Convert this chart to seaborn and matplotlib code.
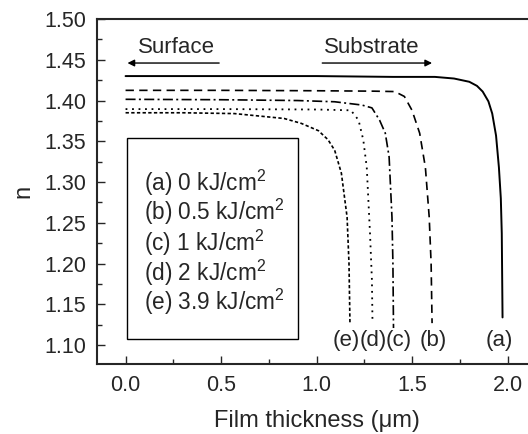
import matplotlib
matplotlib.use("Agg")
import matplotlib.pyplot as plt
import seaborn as sns
import pandas as pd
from matplotlib.patches import Rectangle
from matplotlib.ticker import MultipleLocator

sns.set_style("ticks")
plt.rcParams['font.family'] = ['Liberation Sans', 'DejaVu Sans']
plt.rcParams['mathtext.fontset'] = 'custom'
plt.rcParams['mathtext.rm'] = 'Liberation Sans'
plt.rcParams['mathtext.it'] = 'Liberation Sans:italic'

# Data
x_a = [0.0, 0.5, 1.0, 1.4, 1.62, 1.72, 1.8, 1.84, 1.87, 1.9, 1.92, 1.94, 1.955, 1.965, 1.97, 1.974]
n_a = [1.430, 1.430, 1.430, 1.429, 1.429, 1.427, 1.423, 1.418, 1.411, 1.399, 1.384, 1.357, 1.318, 1.280, 1.237, 1.134]

x_b = [0.0, 0.5, 1.0, 1.3, 1.41, 1.46, 1.5, 1.54, 1.57, 1.59, 1.60, 1.605]
n_b = [1.4125, 1.4125, 1.412, 1.4115, 1.411, 1.405, 1.388, 1.360, 1.318, 1.257, 1.200, 1.127]

x_c = [0.0, 0.5, 0.9, 1.095, 1.237, 1.29, 1.33, 1.36, 1.38, 1.395, 1.40, 1.403]
n_c = [1.4015, 1.401, 1.400, 1.3985, 1.3945, 1.391, 1.376, 1.360, 1.331, 1.257, 1.200, 1.121]

x_d = [0.0, 0.5, 1.0, 1.18, 1.22, 1.245, 1.263, 1.28, 1.29, 1.293]
n_d = [1.3895, 1.3895, 1.389, 1.388, 1.376, 1.3515, 1.318, 1.237, 1.180, 1.128]

x_e = [0.0, 0.3, 0.57, 0.83, 0.92, 1.01, 1.06, 1.095, 1.13, 1.16, 1.17, 1.175]
n_e = [1.385, 1.385, 1.384, 1.378, 1.372, 1.363, 1.352, 1.339, 1.311, 1.257, 1.200, 1.127]

curve_ids = ["(a)", "(b)", "(c)", "(d)", "(e)"]
legend_lines = ["(a) 0 kJ/cm$^2$", "(b) 0.5 kJ/cm$^2$", "(c) 1 kJ/cm$^2$",
                "(d) 2 kJ/cm$^2$", "(e) 3.9 kJ/cm$^2$"]
end_label_x = [1.955, 1.61, 1.43, 1.295, 1.158]

xs = [x_a, x_b, x_c, x_d, x_e]
ns = [n_a, n_b, n_c, n_d, n_e]
styles = ["-", (0, (5, 3.2)), (0, (6, 2, 1.2, 2)), (0, (1, 2.6)), (0, (2, 1.4))]
widths = [1.4, 1.2, 1.2, 1.3, 1.2]

W, H = 528, 434
fig = plt.figure(figsize=(W / 100, H / 100), dpi=100)
left_px, right_px, top_px, bot_px = 97.3, 125.5 + 2.15 * 191, 19, 363.5
ax = fig.add_axes([left_px / W, 1 - bot_px / H, (right_px - left_px) / W, (bot_px - top_px) / H])

for cid, x, n, ls, lw in zip(curve_ids, xs, ns, styles, widths):
    df = pd.DataFrame({"x": x, "n": n})
    sns.lineplot(data=df, x="x", y="n", ax=ax, color="black", linestyle=ls,
                 linewidth=lw, sort=False, estimator=None)

ax.set_xlim(-0.148, 2.15)
ax.set_ylim(1.0775, 1.50)
ax.xaxis.set_major_locator(MultipleLocator(0.5))
ax.xaxis.set_minor_locator(MultipleLocator(0.25))
ax.yaxis.set_major_locator(MultipleLocator(0.05))
ax.yaxis.set_minor_locator(MultipleLocator(0.025))
ax.yaxis.set_major_formatter(matplotlib.ticker.FormatStrFormatter("%.2f"))
ax.tick_params(which="major", direction="in", length=6, width=1.0, labelsize=15.5,
               top=True, right=True, pad=8)
ax.tick_params(which="minor", direction="in", length=3.5, width=1.0, top=True, right=True)
ax.tick_params(axis="x", which="both", top=False)
for s in ax.spines.values():
    s.set_linewidth(1.5)

ax.set_xlabel("Film thickness (μm)", fontsize=17, labelpad=10)
ax.set_ylabel("n", fontsize=17, labelpad=7)

# Direction annotations
ax.text(0.268, 1.4656, "Surface", fontsize=16, ha="center", va="center")
ax.annotate("", xy=(0.01, 1.446), xytext=(0.49, 1.446),
            arrowprops=dict(arrowstyle="-|>", color="black", lw=1.0,
                            mutation_scale=10, shrinkA=0, shrinkB=0))
ax.text(1.29, 1.4656, "Substrate", fontsize=16, ha="center", va="center")
ax.annotate("", xy=(1.605, 1.446), xytext=(1.03, 1.446),
            arrowprops=dict(arrowstyle="-|>", color="black", lw=1.0,
                            mutation_scale=10, shrinkA=0, shrinkB=0))

# Curve labels
for cid, lx in zip(curve_ids, end_label_x):
    ax.text(lx, 1.106, cid, fontsize=16, ha="center", va="center")

# Legend box
ax.add_patch(Rectangle((0.005, 1.107), 0.90, 0.247, fill=False, edgecolor="black", lw=1.0))
legend_y = [1.2988, 1.2632, 1.2252, 1.1883, 1.1528]
for txt, ly in zip(legend_lines, legend_y):
    ax.text(0.095, ly, txt, fontsize=16.3, ha="left", va="center")

fig.savefig("out.png", dpi=100)
